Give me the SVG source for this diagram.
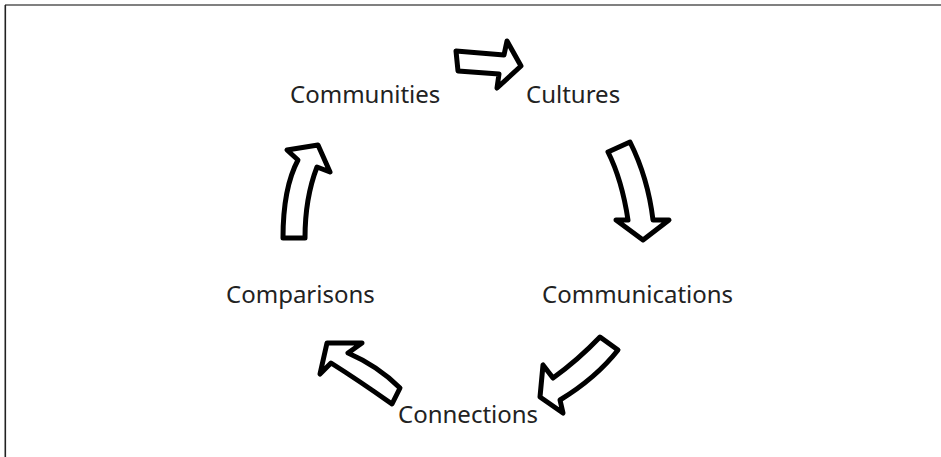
<svg xmlns="http://www.w3.org/2000/svg" width="941" height="457" viewBox="0 0 941 457">
<style>
.lbl{font-family:"Noto Sans","Open Sans",sans-serif;font-size:24px;fill:#222}
.arr{fill:#fff;stroke:#000;stroke-width:5;stroke-linejoin:round;stroke-linecap:round}
</style>
<rect x="0" y="0" width="941" height="457" fill="#fff"/>
<rect x="5" y="4" width="936" height="2" fill="#808080"/>
<rect x="4.5" y="5" width="1.6" height="452" fill="#222"/>
<g id="communities"><text class="lbl" x="290" y="103">Communities</text></g>
<g id="cultures"><text class="lbl" x="526" y="103">Cultures</text></g>
<g id="communications"><text class="lbl" x="542" y="303">Communications</text></g>
<g id="comparisons"><text class="lbl" x="226" y="303">Comparisons</text></g>
<g id="connections"><text class="lbl" x="398" y="423">Connections</text></g>
<g id="connectors">
<path class="arr" d="M456,51 L504,55 L507,41 L521,66 L497,88 L499,74 L458,71 Z"/>
<path class="arr" d="M608,152 Q622,180 628,220 L616,220 L643,240 L669,220 L653,220 Q648,178 630,142 Z"/>
<path class="arr" d="M600,337 Q578,360 553,378 L543,365 L540,397 L563,413 L560,400 Q596,378 618,350 Z"/>
<path class="arr" d="M327,343 L362,343 L348,353 Q378,366 400,388 L392,404 Q358,380 331,363 L320,374 Z"/>
<path class="arr" d="M283,238 Q283,188 298,160 L287,150 L318,145 L330,172 L317,167 Q305,198 305,238 Z"/>
</g>
</svg>
